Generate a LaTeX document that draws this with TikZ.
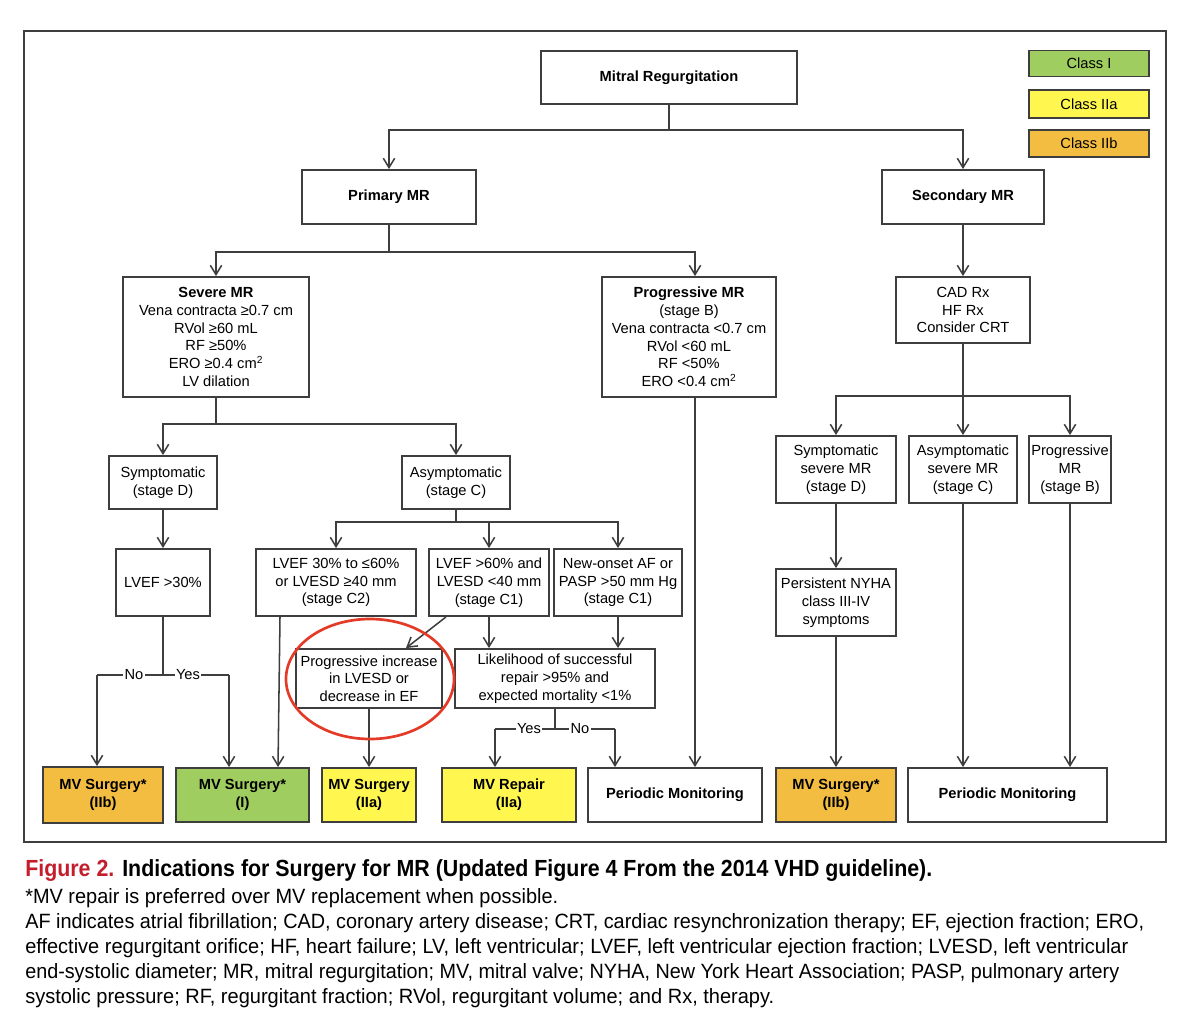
\documentclass[tikz,border=0pt]{standalone}
\usepackage{fontspec}
\setmainfont{Liberation Sans}
\usepackage{graphicx}
\usetikzlibrary{arrows.meta,shapes.geometric}
\definecolor{cI}{RGB}{160,205,95}
\definecolor{cIIa}{RGB}{255,247,80}
\definecolor{cIIb}{RGB}{243,189,66}
\definecolor{lc}{RGB}{62,62,62}
\definecolor{ringred}{RGB}{228,58,40}
\definecolor{figred}{RGB}{196,30,45}
\newcommand\dfont{\fontsize{11}{13.3}\selectfont}
\newlength\pxu
\setlength\pxu{0.75pt}
\begin{document}
\begin{tikzpicture}[x=0.75pt,y=-0.75pt,
  bx/.style 2 args={draw=lc, line width=1.4pt, minimum width={#1*0.75pt}, minimum height={#2*0.75pt}, inner sep=0pt, align=center, font=\dfont},
  conn/.style={draw=lc, line width=1.15pt},
  arr/.style={conn, -{Straight Barb[length=7pt,width=8.5pt,line width=1.15pt]}},
  lab/.style={fill=white, inner sep=1pt, font=\dfont},
  capline/.style={anchor=base west, inner sep=0pt}]
\useasboundingbox (0,0) rectangle (1182,1024);
% frame
\draw[lc, line width=1.5pt] (24,31) rectangle (1166,842);
% legend
\node[bx={120}{26}, fill=cI]   (leg1) at (1089,63.5) {Class I};
\node[bx={120}{28}, fill=cIIa] (leg2) at (1089,104) {Class IIa};
\node[bx={120}{27}, fill=cIIb] (leg3) at (1089,143.5) {Class IIb};
% top levels
\node[bx={256}{53}] (mr) at (669,77.5) {\textbf{Mitral Regurgitation}};
\node[bx={174}{54}] (prim) at (389,197) {\textbf{Primary MR}};
\node[bx={162}{54}] (sec) at (963,197) {\textbf{Secondary MR}};
\node[bx={186}{120}] (sev) at (216,337) {\textbf{Severe MR}\\Vena contracta ≥0.7 cm\\RVol ≥60 mL\\RF ≥50\%\\ERO ≥0.4 cm\textsuperscript{2}\\LV dilation};
\node[bx={174}{120}] (prog) at (689,337) {\textbf{Progressive MR}\\(stage B)\\Vena contracta <0.7 cm\\RVol <60 mL\\RF <50\%\\ERO <0.4 cm\textsuperscript{2}};
\node[bx={134}{66}] (cad) at (963,310) {CAD Rx\\HF Rx\\Consider CRT};
\node[bx={108}{53}] (sympD) at (163,482.5) {Symptomatic\\(stage D)};
\node[bx={108}{53}] (asym) at (456,482.5) {Asymptomatic\\(stage C)};
\node[bx={120}{67}] (ssev) at (836,469.5) {Symptomatic\\severe MR\\(stage D)};
\node[bx={108}{67}] (asev) at (963,469.5) {Asymptomatic\\severe MR\\(stage C)};
\node[bx={82}{67}] (progB) at (1070,469.5) {Progressive\\MR\\(stage B)};
\node[bx={94}{67}] (lvef) at (163,582.5) {LVEF >30\%};
\node[bx={160}{67}] (c2) at (336,582.5) {LVEF 30\% to ≤60\%\\or LVESD ≥40 mm\\(stage C2)};
\node[bx={120}{67}] (c1) at (489,582.5) {LVEF >60\% and\\LVESD <40 mm\\(stage C1)};
\node[bx={128}{67}] (af) at (618,582.5) {New-onset AF or\\PASP >50 mm Hg\\(stage C1)};
\node[bx={120}{67}] (nyha) at (836,602.5) {Persistent NYHA\\class III-IV\\symptoms};
\node[bx={146}{59}] (pinc) at (369,678.5) {Progressive increase\\in LVESD or\\decrease in EF};
\node[bx={200}{59}] (lik) at (555,678.5) {Likelihood of successful\\repair >95\% and\\expected mortality <1\%};
% bottom row
\node[bx={120}{56}, fill=cIIb] (b1) at (103,795) {\textbf{MV Surgery*}\\\textbf{(IIb)}};
\node[bx={133}{54}, fill=cI]   (b2) at (242.5,795) {\textbf{MV Surgery*}\\\textbf{(I)}};
\node[bx={94}{54}, fill=cIIa]  (b3) at (369,795) {\textbf{MV Surgery}\\\textbf{(IIa)}};
\node[bx={134}{54}, fill=cIIa] (b4) at (509,795) {\textbf{MV Repair}\\\textbf{(IIa)}};
\node[bx={174}{54}] (pm1) at (675,795) {\textbf{Periodic Monitoring}};
\node[bx={120}{54}, fill=cIIb] (b6) at (836,795) {\textbf{MV Surgery*}\\\textbf{(IIb)}};
\node[bx={199}{54}] (pm2) at (1007.5,795) {\textbf{Periodic Monitoring}};
% junction coordinates
\coordinate (j1) at (669,130);
\coordinate (j2) at (389,252);
\coordinate (j3) at (216,424);
\coordinate (j4) at (456,522);
\coordinate (j5) at (163,675);
\coordinate (j6) at (555,729);
\coordinate (j7) at (963,396);
\coordinate (n1) at (97,675);
\coordinate (y1) at (229,675);
\coordinate (y2) at (495,729);
\coordinate (n2) at (615,729);
\coordinate (pn) at ([xshift=4.5pt]prog.north);
\coordinate (ps) at ([xshift=4.5pt]prog.south);
\coordinate (x280) at (280,0);
\coordinate (x278) at (278,0);
\coordinate (x446) at (446,0);
\coordinate (x406) at (406,0);
% connectors
\draw[conn] (mr.south) -- (j1);
\draw[arr] (j1) -| (prim.north);
\draw[arr] (j1) -| (sec.north);
\draw[conn] (prim.south) -- (j2);
\draw[arr] (j2) -| (sev.north);
\draw[arr] (j2) -| (pn);
\draw[arr] (sec.south) -- (cad.north);
\draw[conn] (sev.south) -- (j3);
\draw[arr] (j3) -| (sympD.north);
\draw[arr] (j3) -| (asym.north);
\draw[conn] (asym.south) -- (j4);
\draw[arr] (j4) -| (c2.north);
\draw[arr] (j4) -| (c1.north);
\draw[arr] (j4) -| (af.north);
\draw[arr] (sympD.south) -- (lvef.north);
\draw[conn] (cad.south) -- (j7);
\draw[arr] (j7) -| (ssev.north);
\draw[arr] (j7) -| (progB.north);
\draw[arr] (cad.south) -- (asev.north);
\draw[arr] (ssev.south) -- (nyha.north);
\draw[arr] (nyha.south) -- (b6.north);
\draw[arr] (asev.south) -- (asev.south |- pm2.north);
\draw[arr] (progB.south) -- (progB.south |- pm2.north);
\draw[arr] (ps) -- (ps |- pm1.north);
\draw[conn] (lvef.south) -- (j5);
\draw[conn] (n1) -- (y1);
\draw[arr] (n1) -- (n1 |- b1.north);
\draw[arr] (y1) -- (y1 |- b2.north);
\node[lab] (no1) at (134,675) {No};
\node[lab] (yes1) at (188,675) {Yes};
\draw[arr] (c2.south -| x280) -- (b2.north -| x278);
\draw[arr] (c1.south -| x446) -- (pinc.north -| x406);
\draw[arr] (c1.south) -- (c1.south |- lik.north);
\draw[arr] (af.south) -- (af.south |- lik.north);
\draw[arr] (pinc.south) -- (b3.north);
\draw[conn] (lik.south) -- (j6);
\draw[conn] (y2) -- (n2);
\draw[arr] (y2) -- (y2 |- b4.north);
\draw[arr] (n2) -- (n2 |- pm1.north);
\node[lab] (yes2) at (529,729) {Yes};
\node[lab] (no2) at (580,729) {No};
% red ring
\node[draw=ringred, line width=2pt, ellipse, minimum width={168*0.75pt}, minimum height={120*0.75pt}, inner sep=0pt] (ring) at (370,679) {};
% caption
\node[capline] (cap1) at (25,876) {\resizebox{907\pxu}{\height}{\fontsize{17.5}{20}\selectfont\bfseries\textcolor{figred}{Figure 2.} Indications for Surgery for MR (Updated Figure 4 From the 2014 VHD guideline).}};
\node[capline] (cap2) at (25,903) {\resizebox{533\pxu}{\height}{\fontsize{15.5}{18}\selectfont *MV repair is preferred over MV replacement when possible.}};
\node[capline] (cap3) at (25,928) {\resizebox{1119\pxu}{\height}{\fontsize{15.5}{18}\selectfont AF indicates atrial fibrillation; CAD, coronary artery disease; CRT, cardiac resynchronization therapy; EF, ejection fraction; ERO,}};
\node[capline] (cap4) at (25,953) {\resizebox{1103\pxu}{\height}{\fontsize{15.5}{18}\selectfont effective regurgitant orifice; HF, heart failure; LV, left ventricular; LVEF, left ventricular ejection fraction; LVESD, left ventricular}};
\node[capline] (cap5) at (25,978) {\resizebox{1094\pxu}{\height}{\fontsize{15.5}{18}\selectfont end-systolic diameter; MR, mitral regurgitation; MV, mitral valve; NYHA, New York Heart Association; PASP, pulmonary artery}};
\node[capline] (cap6) at (25,1003) {\resizebox{749\pxu}{\height}{\fontsize{15.5}{18}\selectfont systolic pressure; RF, regurgitant fraction; RVol, regurgitant volume; and Rx, therapy.}};
\end{tikzpicture}
\end{document}
